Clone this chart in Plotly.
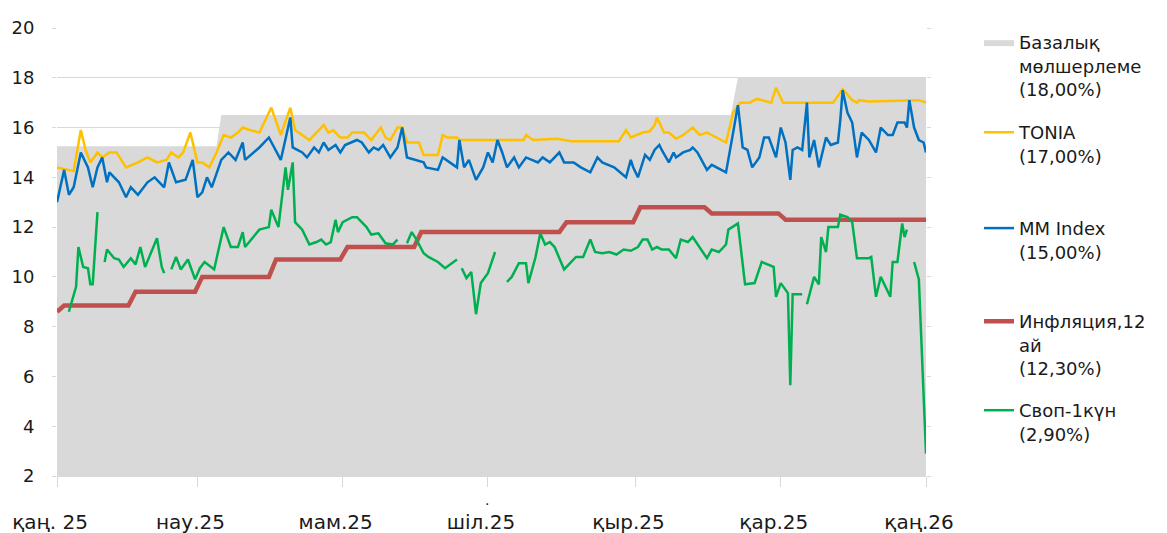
import plotly.graph_objects as go

# ---------------- data ----------------
base_dates = ["2025-01-01", "2025-03-09", "2025-03-11", "2025-10-11", "2025-10-14", "2026-01-01"]
base_values = [15.25, 15.25, 16.5, 16.5, 18.0, 18.0]

tonia_dates = ["2025-01-01","2025-01-08","2025-01-11","2025-01-13","2025-01-15","2025-01-18","2025-01-20","2025-01-23","2025-01-26","2025-01-30",
               "2025-02-04","2025-02-08","2025-02-12","2025-02-16","2025-02-18","2025-02-21","2025-02-23","2025-02-26","2025-03-01","2025-03-03",
               "2025-03-06","2025-03-09","2025-03-12","2025-03-15","2025-03-18","2025-03-20","2025-03-23","2025-03-27","2025-04-01","2025-04-05",
               "2025-04-09","2025-04-11","2025-04-14","2025-04-17","2025-04-20","2025-04-23","2025-04-25","2025-04-27","2025-04-30","2025-05-03",
               "2025-05-05","2025-05-10","2025-05-13","2025-05-17","2025-05-19","2025-05-21","2025-05-24","2025-05-26","2025-05-28","2025-06-02",
               "2025-06-04","2025-06-10","2025-06-12","2025-06-14","2025-06-18","2025-06-19","2025-07-02","2025-07-16","2025-07-17","2025-07-20",
               "2025-07-30","2025-08-05","2025-08-25","2025-08-28","2025-08-30","2025-09-04","2025-09-07","2025-09-09","2025-09-10","2025-09-13",
               "2025-09-15","2025-09-18","2025-09-21","2025-09-25","2025-09-28","2025-10-01","2025-10-05","2025-10-09","2025-10-12","2025-10-15",
               "2025-10-19","2025-10-22","2025-10-28","2025-10-30","2025-11-02","2025-11-23","2025-11-27","2025-12-01","2025-12-03","2025-12-04",
               "2025-12-08","2025-12-29","2026-01-01"]
tonia_values = [14.4,14.25,15.9,15.1,14.6,15.0,14.8,15.0,15.0,14.4,
                14.6,14.8,14.6,14.7,15.0,14.8,15.0,15.8,14.6,14.6,
                14.4,15.0,15.7,15.6,15.8,16.0,15.9,15.8,16.8,15.7,
                16.8,15.9,15.7,15.5,15.8,16.1,15.8,15.9,15.6,15.6,
                15.8,15.8,15.5,16.0,15.6,15.5,16.0,16.0,15.4,15.4,
                14.9,14.9,15.7,15.6,15.6,15.5,15.5,15.5,15.7,15.5,
                15.55,15.45,15.45,15.9,15.6,15.8,15.85,16.1,16.4,15.8,
                15.8,15.55,15.7,16.0,15.7,15.8,15.6,15.4,16.6,17.0,
                17.0,17.15,17.0,17.6,17.0,17.0,17.55,17.1,17.0,17.1,
                17.05,17.1,17.0]

mm_dates = ["2025-01-01","2025-01-04","2025-01-06","2025-01-08","2025-01-11","2025-01-14","2025-01-16","2025-01-18","2025-01-20","2025-01-22",
            "2025-01-23","2025-01-27","2025-01-30","2025-02-01","2025-02-04","2025-02-08","2025-02-11","2025-02-15","2025-02-17","2025-02-20",
            "2025-02-24","2025-02-27","2025-03-01","2025-03-03","2025-03-05","2025-03-07","2025-03-11","2025-03-14","2025-03-17","2025-03-20",
            "2025-03-21","2025-03-27","2025-03-31","2025-04-05","2025-04-09","2025-04-10","2025-04-14","2025-04-16","2025-04-19","2025-04-21",
            "2025-04-23","2025-04-25","2025-04-28","2025-04-30","2025-05-02","2025-05-07","2025-05-09","2025-05-12","2025-05-14","2025-05-16",
            "2025-05-18","2025-05-21","2025-05-24","2025-05-26","2025-05-28","2025-06-01","2025-06-04","2025-06-05","2025-06-10","2025-06-12",
            "2025-06-15","2025-06-18","2025-06-19","2025-06-21","2025-06-23","2025-06-26","2025-06-29","2025-07-01","2025-07-03","2025-07-05",
            "2025-07-07","2025-07-09","2025-07-12","2025-07-14","2025-07-17","2025-07-22","2025-07-24","2025-07-27","2025-07-29","2025-07-31",
            "2025-08-02","2025-08-06","2025-08-09","2025-08-13","2025-08-16","2025-08-18","2025-08-23","2025-08-28","2025-08-30","2025-08-31",
            "2025-09-02","2025-09-05","2025-09-07","2025-09-09","2025-09-11","2025-09-12","2025-09-15","2025-09-17","2025-09-18","2025-09-21",
            "2025-09-24","2025-09-25","2025-09-27","2025-10-01","2025-10-03","2025-10-05","2025-10-09","2025-10-12","2025-10-14","2025-10-16",
            "2025-10-18","2025-10-20","2025-10-23","2025-10-25","2025-10-27","2025-10-30","2025-11-01","2025-11-03","2025-11-05","2025-11-06",
            "2025-11-08","2025-11-10","2025-11-12","2025-11-13","2025-11-15","2025-11-17","2025-11-20","2025-11-22","2025-11-25","2025-11-26",
            "2025-11-27","2025-11-29","2025-12-01","2025-12-03","2025-12-05","2025-12-08","2025-12-11","2025-12-13","2025-12-16","2025-12-18",
            "2025-12-20","2025-12-23","2025-12-24","2025-12-25","2025-12-27","2025-12-29","2025-12-31","2026-01-01"]
mm_values = [13.0,14.3,13.3,13.6,15.0,14.4,13.6,14.4,14.8,13.8,
             14.2,13.8,13.2,13.6,13.3,13.8,14.0,13.6,14.6,13.8,
             13.9,14.7,13.2,13.4,14.0,13.6,14.7,15.0,14.7,15.4,
             14.7,15.2,15.6,14.7,16.4,15.2,15.0,14.8,15.2,15.0,
             15.4,15.1,15.3,15.0,15.3,15.5,15.4,15.0,15.2,15.1,
             15.3,14.8,15.2,16.0,14.8,14.7,14.6,14.4,14.3,14.8,
             14.6,14.4,15.5,14.4,14.7,13.9,14.4,15.0,14.6,15.5,
             15.0,14.4,14.8,14.4,14.8,14.6,14.8,14.6,14.8,15.0,
             14.6,14.6,14.4,14.2,14.8,14.6,14.4,14.0,14.7,14.4,
             14.0,14.9,14.7,15.1,15.3,15.1,14.6,15.0,14.8,15.0,
             15.1,15.2,15.0,14.3,14.5,14.4,14.2,15.8,16.9,15.2,
             15.1,14.4,14.8,15.6,15.6,14.8,16.0,15.4,13.9,15.1,
             15.2,15.1,17.0,14.8,15.5,14.4,15.6,15.3,15.4,16.3,
             17.5,16.6,16.2,14.8,15.8,15.5,15.0,16.0,15.7,15.7,
             16.2,16.2,16.0,17.1,16.0,15.5,15.4,15.0]

infl_dates = ["2025-01-01","2025-01-04","2025-01-31","2025-02-03","2025-02-28","2025-03-03","2025-03-31","2025-04-03","2025-04-30","2025-05-03",
              "2025-05-31","2025-06-03","2025-07-31","2025-08-03","2025-08-31","2025-09-03","2025-09-30","2025-10-03","2025-10-31","2025-11-03",
              "2026-01-01"]
infl_values = [8.6,8.85,8.85,9.4,9.4,10.0,10.0,10.7,10.7,11.2,
               11.2,11.8,11.8,12.2,12.2,12.8,12.8,12.55,12.55,12.3,
               12.3]

swap_dates = ["2025-01-06","2025-01-09","2025-01-10","2025-01-12","2025-01-14","2025-01-15","2025-01-16","2025-01-18","2025-01-19","2025-01-21",
              "2025-01-22","2025-01-25","2025-01-27","2025-01-29","2025-02-01","2025-02-03","2025-02-05","2025-02-07","2025-02-12","2025-02-14",
              "2025-02-15","2025-02-16","2025-02-18","2025-02-20","2025-02-22","2025-02-25","2025-02-28","2025-03-02","2025-03-04","2025-03-08",
              "2025-03-12","2025-03-15","2025-03-18","2025-03-20","2025-03-21","2025-03-27","2025-03-31","2025-04-01","2025-04-04","2025-04-07",
              "2025-04-08","2025-04-10","2025-04-11","2025-04-14","2025-04-17","2025-04-20","2025-04-22","2025-04-24","2025-04-26","2025-04-28",
              "2025-04-29","2025-05-01","2025-05-05","2025-05-07","2025-05-11","2025-05-13","2025-05-16","2025-05-19","2025-05-22","2025-05-24",
              "2025-05-25","2025-05-28","2025-05-30","2025-06-01","2025-06-04","2025-06-06","2025-06-10","2025-06-13","2025-06-15","2025-06-18",
              "2025-06-19","2025-06-20","2025-06-22","2025-06-24","2025-06-26","2025-06-28","2025-07-01","2025-07-04","2025-07-06","2025-07-09",
              "2025-07-11","2025-07-14","2025-07-17","2025-07-18","2025-07-21","2025-07-23","2025-07-25","2025-07-27","2025-07-29","2025-08-02",
              "2025-08-04","2025-08-07","2025-08-10","2025-08-13","2025-08-15","2025-08-18","2025-08-21","2025-08-24","2025-08-27","2025-08-30",
              "2025-09-02","2025-09-04","2025-09-06","2025-09-08","2025-09-10","2025-09-12","2025-09-15","2025-09-18","2025-09-20","2025-09-23",
              "2025-09-25","2025-09-28","2025-10-01","2025-10-03","2025-10-06","2025-10-09","2025-10-10","2025-10-14","2025-10-17","2025-10-21",
              "2025-10-24","2025-10-29","2025-10-30","2025-11-01","2025-11-04","2025-11-05","2025-11-06","2025-11-10","2025-11-11","2025-11-12",
              "2025-11-15","2025-11-17","2025-11-18","2025-11-20","2025-11-21","2025-11-25","2025-11-26","2025-11-29","2025-12-01","2025-12-03",
              "2025-12-08","2025-12-09","2025-12-11","2025-12-13","2025-12-17","2025-12-18","2025-12-20","2025-12-22","2025-12-23","2025-12-24",
              "2025-12-25","2025-12-27","2025-12-29","2026-01-01"]
swap_values = [8.6,9.6,11.2,10.4,10.35,9.7,9.7,12.6,None,10.6,
               11.1,10.75,10.7,10.4,10.75,10.5,11.2,10.4,11.55,10.4,
               10.15,None,10.3,10.8,10.3,10.7,9.9,10.35,10.6,10.3,
               12.0,11.2,11.2,11.8,11.2,11.9,12.0,12.7,12.0,14.4,
               13.5,14.6,12.2,11.9,11.3,11.4,11.5,11.3,11.4,12.3,
               11.8,12.2,12.4,12.4,12.0,11.7,11.75,11.35,11.3,11.5,
               None,11.35,11.8,11.5,10.95,10.8,10.6,10.35,10.5,10.7,
               None,10.35,9.95,10.2,8.5,9.75,10.15,11.0,None,9.8,
               10.0,10.55,10.55,9.75,10.8,11.75,11.3,11.4,11.2,10.3,
               10.5,10.8,10.8,11.5,11.0,10.95,11.0,10.9,11.1,11.05,
               11.2,11.5,11.5,11.1,11.2,11.1,11.1,10.75,11.5,11.4,
               11.6,11.2,10.75,11.1,11.0,11.3,11.9,12.15,9.7,9.75,
               10.6,10.4,9.2,9.75,9.35,5.65,9.3,9.3,None,8.9,
               10.0,9.7,11.6,11.0,12.0,12.0,12.5,12.4,12.2,10.75,
               10.75,10.8,9.2,10.0,9.2,10.6,10.6,12.15,11.6,11.9,
               None,10.6,9.9,2.9]

assert len(tonia_dates) == len(tonia_values)
assert len(mm_dates) == len(mm_values)
assert len(infl_dates) == len(infl_values)
assert len(swap_dates) == len(swap_values)

tick_dates = ["2025-01-01", "2025-03-01", "2025-05-01", "2025-07-01", "2025-09-01", "2025-11-01", "2026-01-01"]
tick_labels = ["қаң. 25", "нау.25", "мам.25", "шіл.25", "қыр.25", "қар.25", "қаң.26"]

names = {
    "base": "Базалық<br>мөлшерлеме<br>(18,00%)",
    "tonia": "TONIA<br>(17,00%)",
    "mm": "MM Index<br>(15,00%)",
    "infl": "Инфляция,12<br>ай<br>(12,30%)",
    "swap": "Своп-1күн<br>(2,90%)",
}

# ---------------- figure ----------------
FONT = "DejaVu Sans"
TXT = "#1a1a1a"

fig = go.Figure()
fig.add_trace(go.Scatter(x=base_dates, y=base_values, mode="lines", fill="tozeroy",
                         fillcolor="#d9d9d9", line=dict(width=0, color="#d9d9d9"),
                         name=names["base"], legend="legend"))
fig.add_trace(go.Scatter(x=tonia_dates, y=tonia_values, mode="lines",
                         line=dict(width=2.5, color="#ffc000"), name=names["tonia"], legend="legend2"))
fig.add_trace(go.Scatter(x=mm_dates, y=mm_values, mode="lines",
                         line=dict(width=2.5, color="#0070c0"), name=names["mm"], legend="legend3"))
fig.add_trace(go.Scatter(x=infl_dates, y=infl_values, mode="lines",
                         line=dict(width=4.5, color="#c0504d"), name=names["infl"], legend="legend4"))
fig.add_trace(go.Scatter(x=swap_dates, y=swap_values, mode="lines", connectgaps=False,
                         line=dict(width=2.5, color="#00b050"), name=names["swap"], legend="legend5"))

def leg(y):
    return dict(x=1.061, y=y, xanchor="left", yanchor="top", valign="top",
                bgcolor="rgba(0,0,0,0)", font=dict(family=FONT, size=18, color=TXT))

# the page adds an 8 px body margin, so the figure is 8 px smaller than the window
fig.update_layout(
    width=1159, height=525,
    margin=dict(l=49, r=241, t=20, b=57, autoexpand=False),
    paper_bgcolor="white", plot_bgcolor="white",
    font=dict(family=FONT, size=18, color=TXT),
    showlegend=True,
    legend=leg(1.009), legend2=leg(0.808), legend3=leg(0.594),
    legend4=leg(0.386), legend5=leg(0.1875),
    xaxis=dict(type="date", range=["2025-01-01", "2026-01-01"],
               tickvals=tick_dates, ticktext=tick_labels,
               ticks="outside", ticklen=10, tickcolor="#d9d9d9",
               showline=True, linecolor="#d9d9d9", showgrid=False, zeroline=False,
               ticklabelstandoff=18, ticklabelshift=-7,
               tickfont=dict(family=FONT, size=20, color=TXT)),
    yaxis=dict(range=[2, 20], dtick=2, tick0=2,
               ticks="outside", ticklen=4, tickcolor="#d9d9d9", mirror="ticks",
               showline=False, showgrid=True, gridcolor="#d9d9d9", gridwidth=1,
               zeroline=False, ticklabelstandoff=14,
               tickfont=dict(family=FONT, size=18, color=TXT)),
    annotations=[dict(text=".", x=0.495, y=-0.075, xref="paper", yref="paper",
                      showarrow=False, font=dict(family=FONT, size=14, color=TXT))],
)

fig.write_html("out.html")
